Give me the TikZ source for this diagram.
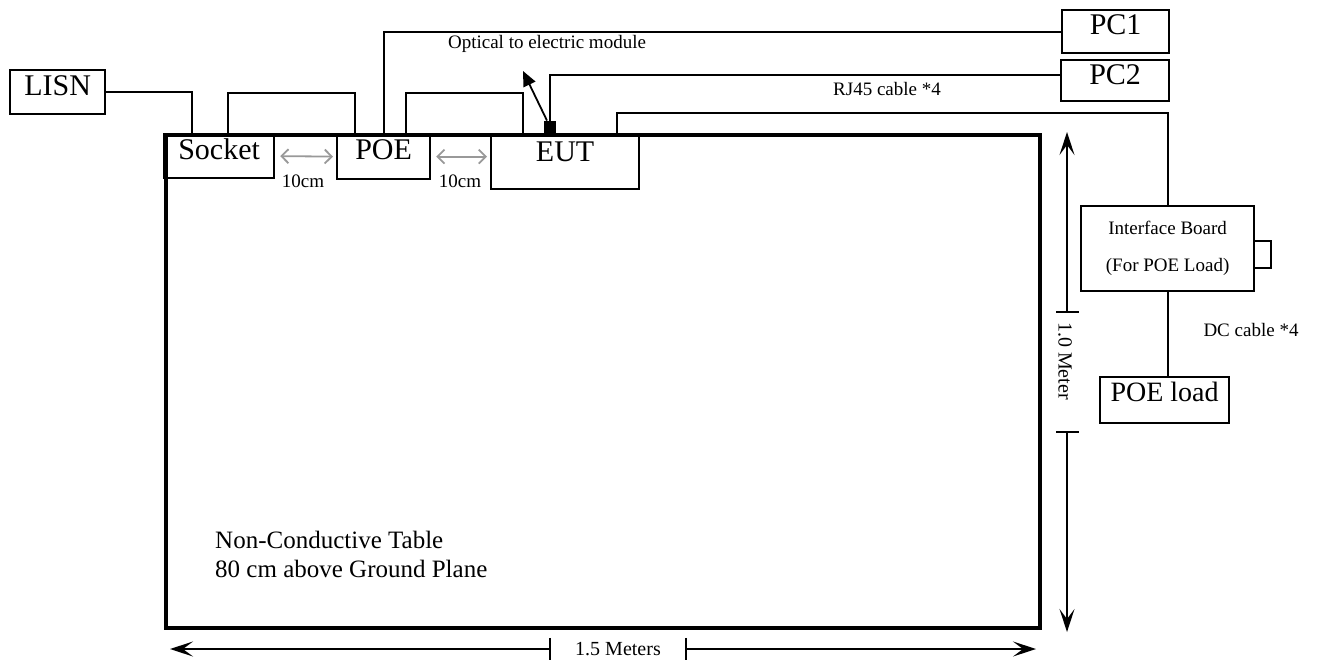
\documentclass[tikz,border=0pt]{standalone}
\usepackage{fontspec}
\setmainfont{Liberation Serif}
\usepackage{tikz}
\usetikzlibrary{calc, arrows.meta, positioning}

\newcommand{\unitfont}{\fontsize{30}{36}\selectfont}
\newcommand{\notefont}{\fontsize{19}{23}\selectfont}

\begin{document}
\begin{tikzpicture}[x=1pt, y=-1pt,
    unit/.style={draw, line width=2.2pt, font=\unitfont, inner xsep=0pt, inner ysep=0pt, text height=25pt, anchor=north west},
    wire/.style={line width=2pt},
    gaparrow/.style={{Straight Barb[length=7pt,width=14pt]}-{Straight Barb[length=7pt,width=14pt]}, black!40, line width=1.8pt},
    dimarrow/.style={-{Stealth[length=23pt,width=15pt,inset=10pt]}, line width=1.5pt},
    note/.style={font=\notefont, inner sep=0pt}]
  \useasboundingbox (0,0) rectangle (1319,664);

  % table and the units on it
  \node[draw, line width=3.5pt, minimum width=874pt, minimum height=493pt, inner sep=0pt, anchor=north west] (table) at (164,133) {};
  \node[unit, minimum width=95pt, text depth=19pt] (lisn) at (9,69) {LISN};
  \node[unit, minimum width=110pt, text depth=19pt] (socket) at (163,133) {Socket};
  \node[unit, minimum width=93pt, text depth=20pt] (poe) at (336,133) {POE};
  \node[unit, minimum width=148pt, text height=27pt, text depth=28pt] (eut) at (490,133) {EUT};
  \node[fill, minimum size=12pt, inner sep=0pt, anchor=south] (module) at (550,133) {};
  \node[unit, minimum width=107pt, text height=24pt, text depth=19pt] (pc1) at (1061,9) {PC1};
  \node[unit, minimum width=108pt, text height=24pt, text depth=17pt] (pc2) at (1060,59) {PC2};
  \node[draw, line width=2.2pt, font=\notefont, align=center, minimum width=173pt, minimum height=85pt, anchor=north west] (board) at (1080,205) {Interface Board\\[14pt](For POE Load)};
  \node[draw, line width=1.8pt, minimum width=17pt, minimum height=27pt, inner sep=0pt, anchor=north west] (port) at (1253,240) {};
  \node[unit, font=\fontsize{28}{34}\selectfont, minimum width=129pt, text height=24pt, text depth=22pt] (load) at (1099,376) {POE load};

  % cables
  \draw[wire] (lisn.east) -| ($(socket.north west)+(29,0)$);
  \draw[wire] ($(socket.north west)+(65,0)$) -- ++(0,-40) -| ($(poe.north west)+(19,0)$);
  \draw[wire] ($(poe.north west)+(70,0)$) -- ++(0,-40) -| ($(eut.north west)+(33,0)$);
  \draw[wire] (poe.north) |- (pc1.west);
  \draw[wire] (module.north) |- ($(pc2.west)+(0,-5.5)$);
  \draw[wire] ($(eut.north west)+(127,0)$) -- ++(0,-20) -| (board.north);
  \draw[wire] (board.south) -- (board.south |- load.north);

  \coordinate (tip) at (523,71);
  \draw[-{Triangle[length=15pt,width=13pt]}, line width=1.8pt] ($(module.north)+(-3,0)$) -- (tip);
  \node[note] (optic) at (547,43.5) {Optical to electric module};
  \node[note] (rj45) at (887,88.5) {RJ45 cable *4};
  \node[note] (dc) at (1251,329.5) {DC cable *4};

  % spacing between units
  \draw[gaparrow, shorten <=5pt, shorten >=3pt] (socket.east) -- (poe.west);
  \draw[gaparrow, shorten <=5pt, shorten >=3pt] (poe.east) -- (poe.east -| eut.west);
  \node[note] (gapa) at (303,181.5) {10cm};
  \node[note] (gapb) at (460,181.5) {10cm};

  % table size
  \node[note, font=\fontsize{20}{24}\selectfont, minimum width=136pt, minimum height=22pt] (wlab) at (618,649) {1.5 Meters};
  \coordinate (wl) at (170,649);
  \coordinate (wr) at (1036,649);
  \draw[dimarrow] (wlab.west) -- (wl);
  \draw[dimarrow] (wlab.east) -- (wr);
  \draw[line width=1.5pt] (wlab.north west) -- (wlab.south west);
  \draw[line width=1.5pt] (wlab.north east) -- (wlab.south east);

  \coordinate (vt) at (1067,312);
  \coordinate (vb) at (1067,432);
  \coordinate (ht) at (1067,132);
  \coordinate (hb) at (1067,632);
  \node[font=\fontsize{20}{24}\selectfont, rotate=-90, inner sep=0pt] (hlab) at (1065,361) {1.0 Meter};
  \draw[dimarrow] (vt) -- (ht);
  \draw[dimarrow] (vb) -- (hb);
  \draw[line width=1.8pt] ([xshift=-11pt]vt) -- ([xshift=12pt]vt);
  \draw[line width=1.8pt] ([xshift=-11pt]vb) -- ([xshift=12pt]vb);

  \node[font=\fontsize{25}{29}\selectfont, align=left, anchor=west, inner sep=0pt] (tablenote) at (215,554) {Non-Conductive Table\\80 cm above Ground Plane};
\end{tikzpicture}
\end{document}
